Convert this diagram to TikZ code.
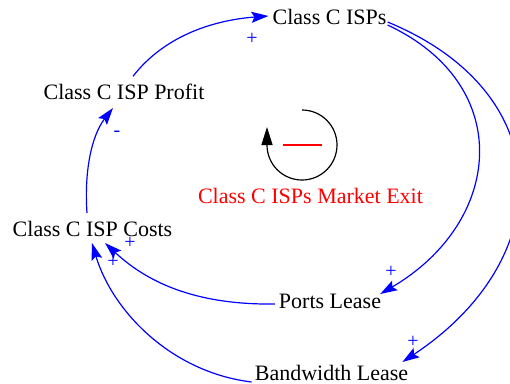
\documentclass[tikz,border=0pt]{standalone}
\usepackage{fontspec}
\setmainfont{Liberation Serif}
\usetikzlibrary{arrows.meta}
\definecolor{cblue}{RGB}{0,0,255}
\definecolor{cred}{RGB}{255,0,0}
\begin{document}
\begin{tikzpicture}[x=1pt,y=-1pt,
  lbl/.style={inner sep=0pt,anchor=base,font=\fontsize{22}{26}\selectfont},
  pol/.style={inner sep=0pt,text=cblue,font=\fontsize{20}{24}\selectfont},
  link/.style={draw=cblue,line width=1.2pt,-{Stealth[length=17pt,width=11pt,inset=3pt]}},
  loopar/.style={draw=black,line width=1.2pt,-{Triangle[length=18pt,width=11pt]}}]
\useasboundingbox (0,0) rectangle (510,383);
\clip (0,0) rectangle (510,383);
% variables
\node[lbl] (isps) at (329.5,24) {Class C ISPs};
\node[lbl] (profit) at (124,99) {Class C ISP Profit};
\node[lbl,text=cred] (exit) at (310.5,203) {Class C ISPs Market Exit};
\node[lbl] (costs) at (92.5,236) {Class C ISP Costs};
\node[lbl] (ports) at (330,308) {Ports Lease};
\node[lbl] (bw) at (331.5,380) {Bandwidth Lease};
% links
\draw[link] ([shift={(9,-7)}]profit.north) .. controls (165,35) and (215,20) .. ([shift={(-4,-8)}]isps.base west);
\draw[link] ([shift={(-5.5,-23)}]costs.base) .. controls (84,170) and (92,135) .. ([shift={(-11,9)}]profit.base);
\draw[link] ([shift={(1,1)}]isps.base east) .. controls (516,85) and (503,222) .. ([shift={(-1,-14)}]ports.base east);
\draw[link] ([shift={(1,-2)}]isps.base east) .. controls (560,93) and (558,259) .. ([shift={(-6,-18)}]bw.base east);
\draw[link] ([shift={(-4,-4)}]ports.base west) .. controls (200,305) and (150,285) .. ([shift={(12.5,7)}]costs.base);
\draw[link] ([shift={(-3,2)}]bw.base west) .. controls (170,372) and (112,310) .. ([shift={(-0.5,7)}]costs.base);
% polarities
\node[pol] (p1) at (252,39) {+};
\node[pol] (m2) at (117,134) {-};
\node[pol] (p3) at (391,272) {+};
\node[pol] (p4) at (413,342) {+};
\node[pol] (p5) at (130,243) {+};
\node[pol] (p6) at (113,262) {+};
% loop symbol
\coordinate (lc) at (302,145);
\draw[loopar] (302,110) arc[start angle=-90,end angle=180,radius=35] -- ++(0,-18);
\draw[cred,line width=2.2pt] ([xshift=-19]lc) -- ([xshift=20]lc);
\end{tikzpicture}
\end{document}
